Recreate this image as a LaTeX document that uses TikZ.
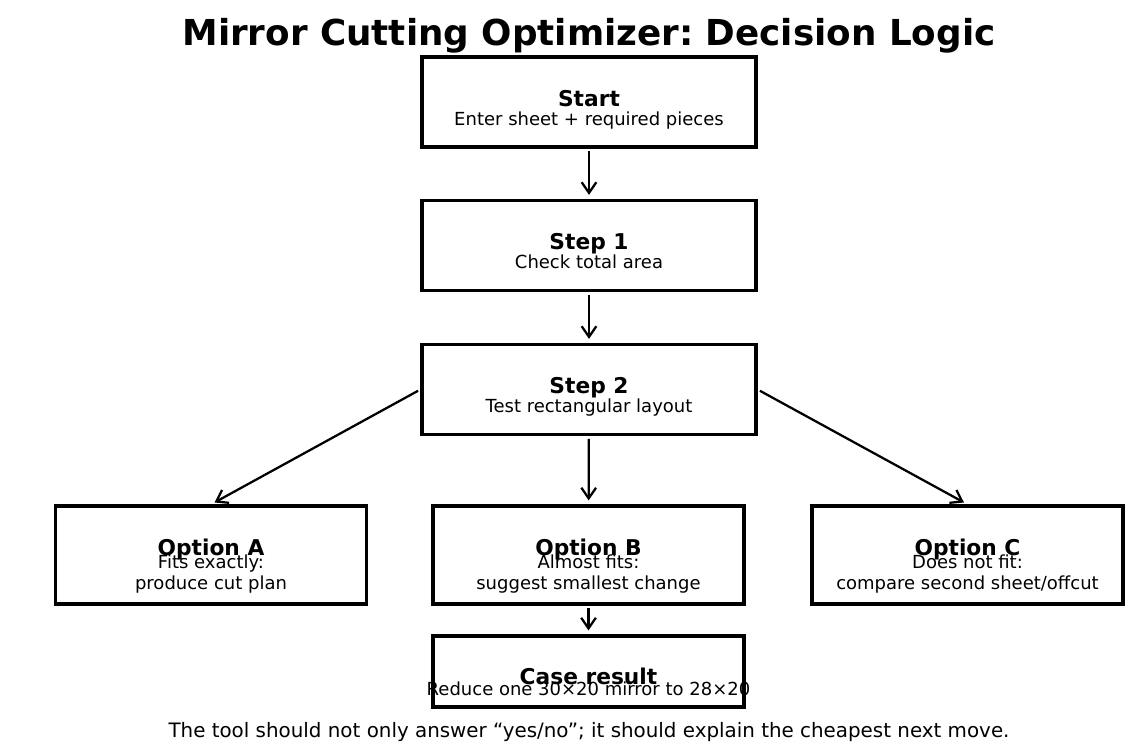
\documentclass[tikz,border=0pt]{standalone}
\usepackage{fontspec}
\setmainfont{DejaVu Sans}
\usetikzlibrary{arrows.meta}
\frenchspacing
\begin{document}
\begin{tikzpicture}[x=0.75pt,y=0.75pt,yscale=-1,xscale=1,
	box/.style={draw, line width=2.4pt, minimum width=250.5pt, minimum height=67.5pt, inner sep=0pt},
	optbox/.style={box, minimum width=233.25pt, minimum height=73.5pt},
	head/.style={anchor=base, inner sep=0pt, font=\bfseries\fontsize{16.3}{19}\selectfont},
	sub/.style={anchor=base, inner sep=0pt, align=center, font=\fontsize{13.5}{15.75}\selectfont},
	flow/.style={line width=1.7pt, -{Straight Barb[length=8pt,width=11pt]}, shorten <=2pt, shorten >=3pt}]
	%set diagram size 1146 x 746
	\fill[white] (0,0) rectangle (1146,746);
	\useasboundingbox (0,0) rectangle (1146,746);

	% Title
	\node (title) [anchor=base, inner sep=0pt, font=\bfseries\fontsize{26.8}{32}\selectfont] at (589,45) {Mirror Cutting Optimizer: Decision Logic};

	%Shape: Rectangle
	\node (start) [box] at (589,102) {};
	\node (step1) [box] at (589,245.5) {};
	\node (step2) [box] at (589,389.5) {};
	\node (optA) [optbox] at (211,555) {};
	\node (optB) [optbox] at (588.5,555) {};
	\node (optC) [optbox] at (967.5,555) {};
	\node (result) [optbox, minimum height=53.25pt] at (588.5,671.5) {};

	% Text Node
	\node (startH) [head] at (589,106) {Start};
	\node (startS) [sub] at (589,125) {Enter sheet + required pieces};
	\node (step1H) [head] at (589,249.5) {Step 1};
	\node (step1S) [sub] at (589,268.5) {Check total area};
	\node (step2H) [head] at (589,393.5) {Step 2};
	\node (step2S) [sub] at (589,412.5) {Test rectangular layout};
	\node (optAH) [head] at (211,555) {Option A};
	\node (optAS) [sub] at (211,589.5) {Fits exactly:\\produce cut plan};
	\node (optBH) [head] at (588.5,555) {Option B};
	\node (optBS) [sub] at (588.5,589.5) {Almost fits:\\suggest smallest change};
	\node (optCH) [head] at (967.5,555) {Option C};
	\node (optCS) [sub] at (967.5,589.5) {Does not fit:\\compare second sheet/offcut};
	\node (resultH) [head] at (588.5,684) {Case result};
	\node (resultS) [sub] at (588.5,695) {Reduce one 30×20 mirror to 28×20};

	% Footer
	\node (note) [anchor=base, inner sep=0pt, font=\fontsize{14.9}{18}\selectfont] at (589,737) {The tool should not only answer “yes/no”; it should explain the cheapest next move.};

	%Straight Lines
	\draw [flow] (start) -- (step1);
	\draw [flow] (step1) -- (step2);
	\draw [flow] (step2) -- (optB);
	\draw [flow] (step2.west) -- (optA.north);
	\draw [flow] (step2.east) -- (optC.north);
	\draw [flow] (optB) -- (result);

\end{tikzpicture}
\end{document}
